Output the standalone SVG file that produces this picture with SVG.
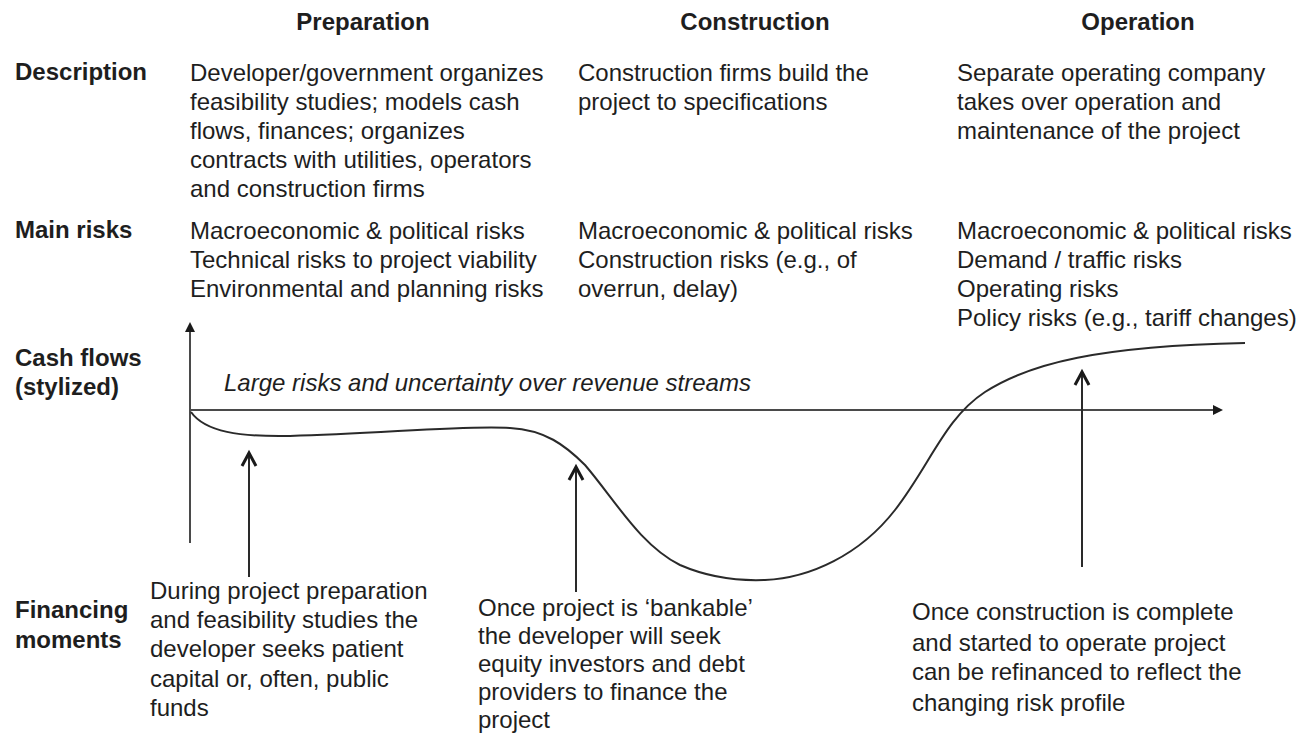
<svg xmlns="http://www.w3.org/2000/svg" width="1307" height="738" viewBox="0 0 1307 738">
  <style>
    text { font-family: "Liberation Sans", Arial, sans-serif; font-size: 24px; fill: #1e1e1e; }
    .hd { font-weight: bold; text-anchor: middle; }
    .lbl { font-weight: bold; }
    .it { font-style: italic; }
    .axis { stroke: #4a4a4a; stroke-width: 2; fill: none; }
    .curve { stroke: #2a2a2a; stroke-width: 2; fill: none; }
    .ptr { stroke: #2a2a2a; stroke-width: 2; fill: none; }
    .chev { stroke: #1a1a1a; stroke-width: 3; fill: none; stroke-linejoin: miter; }
  </style>
  <defs>
    <marker id="tri" markerWidth="10" markerHeight="10" refX="8" refY="5" orient="auto" markerUnits="userSpaceOnUse">
      <path d="M0,0 L10,5 L0,10 z" fill="#1a1a1a"/>
    </marker>
  </defs>
  <rect width="1307" height="738" fill="#ffffff"/>

  <!-- phase headers -->
  <g id="headers">
    <text class="hd" x="363" y="30">Preparation</text>
    <text class="hd" x="755" y="30">Construction</text>
    <text class="hd" x="1138" y="30">Operation</text>
  </g>

  <!-- row labels -->
  <g id="row-labels">
    <text class="lbl" x="15" y="80">Description</text>
    <text class="lbl" x="15" y="238">Main risks</text>
    <text class="lbl" x="15" y="366">Cash flows</text>
    <text class="lbl" x="15" y="395">(stylized)</text>
    <text class="lbl" x="15" y="618">Financing</text>
    <text class="lbl" x="15" y="648">moments</text>
  </g>

  <!-- description row -->
  <g id="desc-preparation">
    <text x="190" y="81">Developer/government organizes</text>
    <text x="190" y="110">feasibility studies; models cash</text>
    <text x="190" y="139">flows, finances; organizes</text>
    <text x="190" y="168">contracts with utilities, operators</text>
    <text x="190" y="197">and construction firms</text>
  </g>
  <g id="desc-construction">
    <text x="578" y="81">Construction firms build  the</text>
    <text x="578" y="110">project to specifications</text>
  </g>
  <g id="desc-operation">
    <text x="957" y="81">Separate operating company</text>
    <text x="957" y="110">takes over operation and</text>
    <text x="957" y="139">maintenance of the project</text>
  </g>

  <!-- main risks row -->
  <g id="risks-preparation">
    <text x="190" y="239">Macroeconomic &amp; political risks</text>
    <text x="190" y="268">Technical risks to project viability</text>
    <text x="190" y="297">Environmental and planning risks</text>
  </g>
  <g id="risks-construction">
    <text x="578" y="239">Macroeconomic &amp; political risks</text>
    <text x="578" y="268">Construction risks (e.g., of</text>
    <text x="578" y="297">overrun, delay)</text>
  </g>
  <g id="risks-operation">
    <text x="957" y="239">Macroeconomic &amp; political risks</text>
    <text x="957" y="268">Demand / traffic risks</text>
    <text x="957" y="297">Operating risks</text>
    <text x="957" y="326">Policy risks (e.g., tariff changes)</text>
  </g>

  <!-- cash-flow chart -->
  <g id="chart">
    <line class="axis" x1="190" y1="543" x2="190" y2="324" marker-end="url(#tri)"/>
    <line class="axis" x1="190" y1="410" x2="1221" y2="410" marker-end="url(#tri)"/>
    <text class="it" x="224" y="391">Large risks and uncertainty over revenue streams</text>
    <path class="curve" d="M191,412 C205,432 240,437 290,436 C380,434 460,425 510,428 C545,430 565,445 585,465 C615,500 640,545 680,565 C710,578 740,581 765,580 C810,578 860,555 895,510 C930,465 945,418 985,392 C1030,363 1100,346 1245,343"/>
  </g>

  <!-- pointers from financing notes to the curve -->
  <g id="connectors">
    <line class="ptr" x1="249" y1="577" x2="249" y2="455"/>
    <path class="chev" d="M242,466 L249,453 L256,466"/>
    <line class="ptr" x1="576" y1="592" x2="576" y2="469"/>
    <path class="chev" d="M569,480 L576,467 L583,480"/>
    <line class="ptr" x1="1082" y1="567" x2="1082" y2="374"/>
    <path class="chev" d="M1075,385 L1082,372 L1089,385"/>
  </g>

  <!-- financing notes -->
  <g id="fin-preparation">
    <text x="150" y="599">During project preparation</text>
    <text x="150" y="628">and feasibility studies the</text>
    <text x="150" y="657">developer seeks patient</text>
    <text x="150" y="687">capital or, often, public</text>
    <text x="150" y="716">funds</text>
  </g>
  <g id="fin-construction">
    <text x="478" y="616">Once project is ‘bankable’</text>
    <text x="478" y="644">the developer will seek</text>
    <text x="478" y="672">equity investors and debt</text>
    <text x="478" y="700">providers to finance the</text>
    <text x="478" y="728">project</text>
  </g>
  <g id="fin-operation">
    <text x="912" y="620">Once construction is complete</text>
    <text x="912" y="651">and started to operate project</text>
    <text x="912" y="680">can be refinanced to reflect the</text>
    <text x="912" y="711">changing risk profile</text>
  </g>
</svg>
